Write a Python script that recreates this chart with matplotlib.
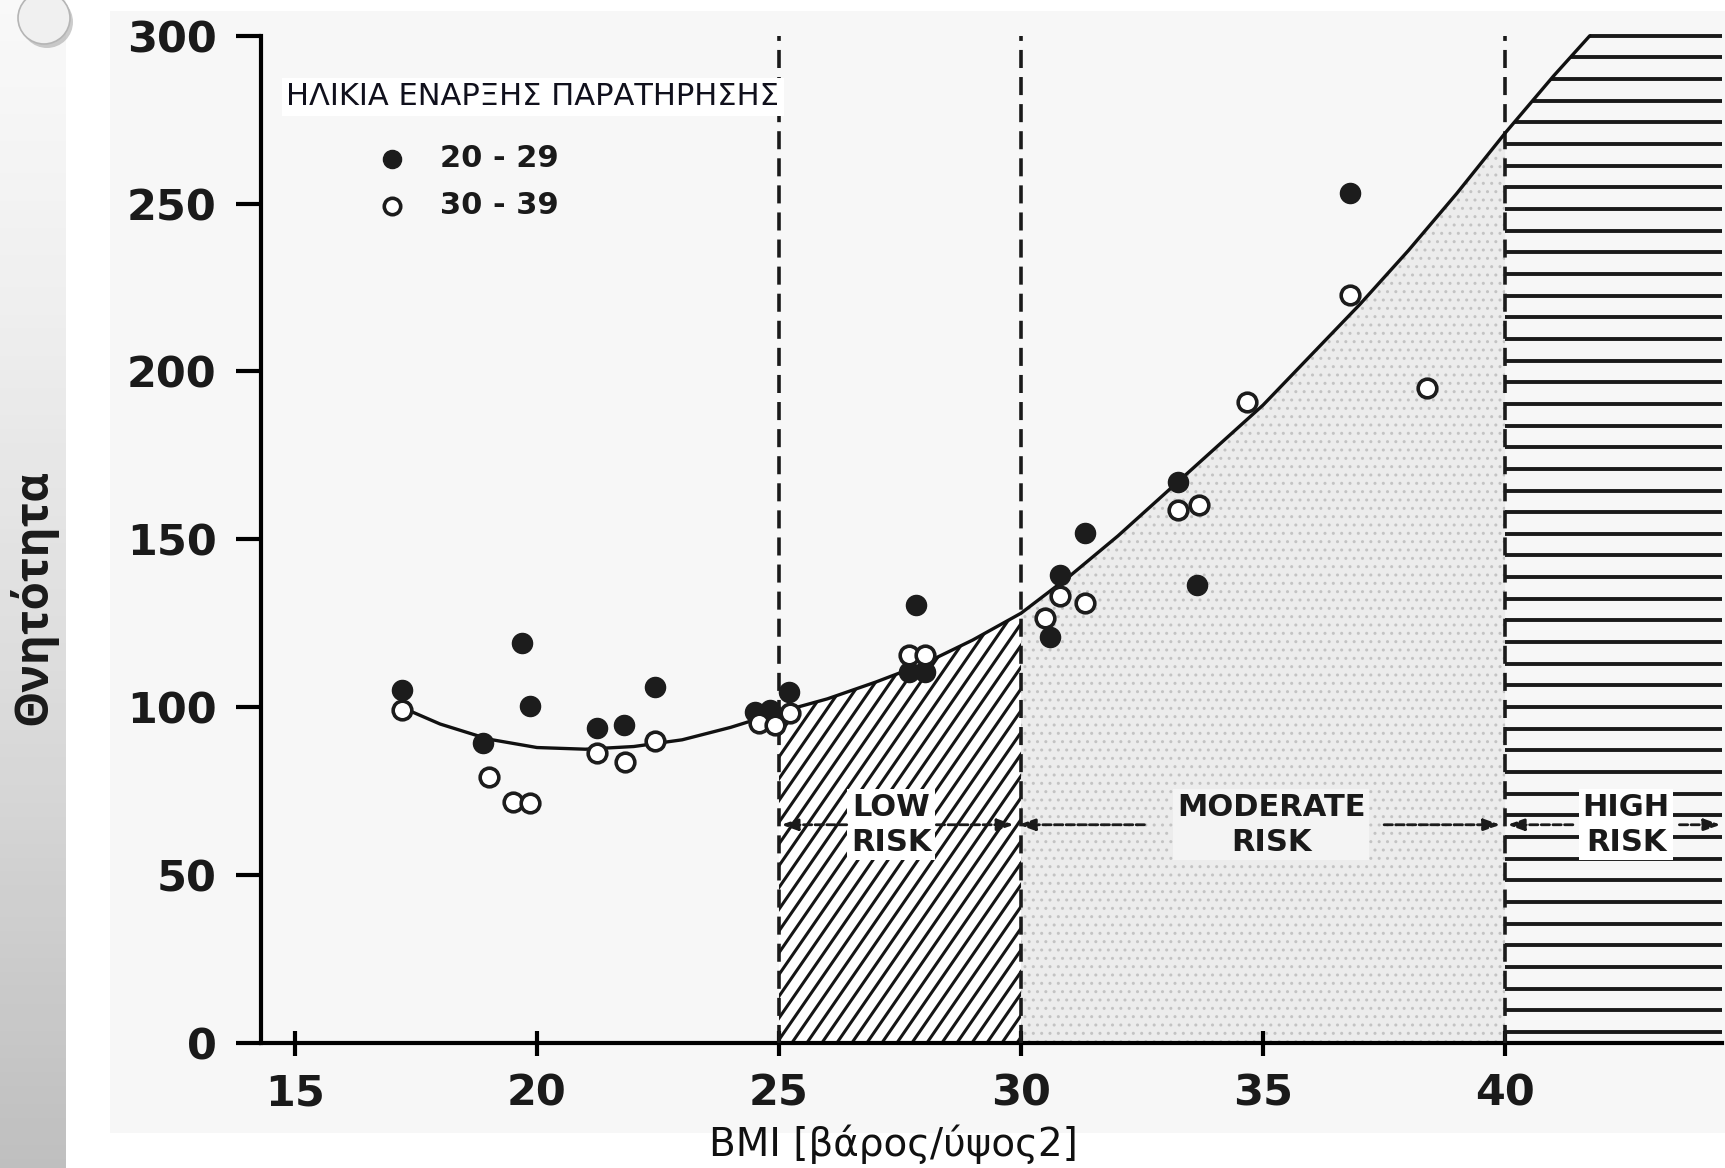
import numpy as np
import matplotlib.pyplot as plt
import matplotlib.patches as mpatches
from matplotlib.transforms import IdentityTransform

# values
bmi_20_29 = [17.21, 18.89, 19.69, 19.86, 21.24, 21.79, 22.44, 24.51, 24.82, 25.20,
             27.84, 27.68, 28.02, 30.60, 30.81, 31.33, 33.25, 33.63, 36.80]
mort_20_29 = [105.2, 89.3, 119.2, 100.4, 93.7, 94.7, 106.1, 98.7, 99.2, 104.6,
              130.5, 110.5, 110.5, 121.0, 139.4, 151.8, 167.2, 136.4, 253.1]

bmi_30_39 = [17.21, 19.00, 19.51, 19.86, 21.24, 21.82, 22.44, 24.58, 24.92, 25.22,
             27.68, 28.02, 30.50, 30.81, 31.33, 33.25, 33.67, 34.67, 36.80, 38.39]
mort_30_39 = [99.2, 79.3, 71.9, 71.4, 86.3, 83.8, 89.8, 95.2, 94.7, 98.2,
              115.7, 115.7, 126.5, 133.0, 131.0, 158.8, 160.3, 191.0, 222.8, 195.0]

bmi_curve = [17.2, 18, 19, 20, 21, 22, 23, 24, 25, 26, 27, 28, 29, 30, 31, 32, 33,
             34, 35, 36, 37, 38, 39, 40, 41, 41.75]
mort_curve = [100, 95, 90.5, 88, 87.5, 88.3, 90.3, 94, 98.5, 102.5, 107.5, 113, 120,
              128, 139, 151, 164, 177, 190, 205, 220, 236, 253, 271, 288, 300]

x_ticks = [15, 20, 25, 30, 35, 40]
y_ticks = [0, 50, 100, 150, 200, 250, 300]
risk_bounds = [25, 30, 40]
risk_names = ["LOW\nRISK", "MODERATE\nRISK", "HIGH\nRISK"]
legend_title = "ΗΛΙΚΙΑ ΕΝΑΡΞΗΣ ΠΑΡΑΤΗΡΗΣΗΣ"
legend_labels = ["20 - 29", "30 - 39"]

W, H = 1725, 1168
fig = plt.figure(figsize=(W / 100, H / 100), dpi=100)
fig.patch.set_facecolor('white')

# slide decoration: grey strip on the left and the scanned page
strip = fig.add_axes([0, 0, 66 / W, 1])
grad = np.linspace(0, 1, 256).reshape(-1, 1)
strip.imshow(grad, aspect='auto', cmap='Greys', vmin=-0.15, vmax=3.0,
             extent=[0, 1, 0, 1], origin='upper')
strip.axis('off')
fig.add_artist(mpatches.Rectangle((110 / W, 35 / H), (W - 110) / W, 1122 / H,
                                  transform=fig.transFigure, facecolor='#f7f7f7',
                                  edgecolor='none', zorder=-5))
fig.add_artist(mpatches.Circle((47, H - 22), 26, transform=IdentityTransform(),
                               facecolor='#9a9a9a', edgecolor='none', alpha=0.5))
fig.add_artist(mpatches.Circle((44, H - 18), 26, transform=IdentityTransform(),
                               facecolor='#f0f0f0', edgecolor='#b5b5b5', lw=1.2))

x0, x1 = 14.3, 44.48
ax = fig.add_axes([261 / W, 125 / H, 1461 / W, 1014 / H])
ax.set_facecolor('none')
ax.set_xlim(x0, x1)
ax.set_ylim(0, 302)

bx = np.array(bmi_curve)
by = np.array(mort_curve)

# low risk: diagonal hatch, drawn as lines clipped to the area under the curve
m = (bx >= 25) & (bx <= 30)
low_poly = np.vstack([np.column_stack([bx[m], by[m]]), [[30, 0], [25, 0]]])
low_patch = mpatches.Polygon(low_poly, closed=True, facecolor='white',
                             edgecolor='none', zorder=1)
ax.add_patch(low_patch)
slope = 1.45 * 48.4 / 3.357
for xs in np.arange(25 - 150 / slope, 30.5, 0.31):
    ln, = ax.plot([xs, xs + 310 / slope], [0, 310], color='#151515', lw=2.2,
                  zorder=2)
    ln.set_clip_path(low_patch)

# moderate risk: stipple
m = (bx >= 30) & (bx <= 40)
ax.fill_between(bx[m], 0, by[m], facecolor='#ececec', edgecolor='#c3c3c3',
                hatch='..', linewidth=0, zorder=1)
# high risk: horizontal lines
up = bx >= 30
for h in np.arange(300, 0, -6.45):
    start = max(40, np.interp(h, by[up], bx[up]))
    ax.hlines(h, start, x1, color='#1a1a1a', lw=2.8, zorder=2)

for b in risk_bounds:
    ax.vlines(b, 0, 300, color='#1a1a1a', lw=2.6, linestyles=(0, (5, 2.5)), zorder=3)

ax.plot(bx, by, color='#111111', lw=2.4, zorder=4, solid_capstyle='round')

ax.scatter(bmi_20_29, mort_20_29, s=210, color='#1c1c1c', edgecolor='#1c1c1c',
           zorder=5)
ax.scatter(bmi_30_39, mort_30_39, s=180, facecolor='white', edgecolor='#1c1c1c',
           linewidth=2.6, zorder=6)

# risk labels and arrows
arrow_y = 65
label_x = [27.32, 35.17, 42.5]
label_bg = ['white', '#f4f4f4', 'white']
arrow_spans = [[(26.4, 25.05), (28.25, 29.85)],
               [(32.55, 29.95), (37.5, 39.9)],
               [(41.4, 40.05), (43.6, 44.45)]]
for name, lx, bg, spans in zip(risk_names, label_x, label_bg, arrow_spans):
    ax.text(lx, arrow_y, name, ha='center', va='center', fontsize=22,
            fontweight='bold', color='#1a1a1a', linespacing=1.25, zorder=8,
            bbox=dict(boxstyle='square,pad=0.12', facecolor=bg, edgecolor='none'))
    for a, b in spans:
        ax.annotate('', xy=(b, arrow_y), xytext=(a, arrow_y), zorder=8,
                    arrowprops=dict(arrowstyle='-|>,head_length=0.7,head_width=0.25',
                                    color='#1a1a1a', lw=2, linestyle=(0, (3, 1.2)),
                                    mutation_scale=14, shrinkA=0, shrinkB=0))

# legend block as in the original
ax.text(14.82, 281.8, legend_title, ha='left', va='center', fontsize=22,
        color='#10101c', zorder=9,
        bbox=dict(boxstyle='square,pad=0.15', facecolor='white', edgecolor='none'))
ax.scatter([17.0], [263.3], s=170, color='#1c1c1c', zorder=9)
ax.scatter([17.0], [249.3], s=140, facecolor='white', edgecolor='#1c1c1c',
           linewidth=2.6, zorder=9)
ax.text(18.0, 263.5, legend_labels[0], ha='left', va='center', fontsize=22,
        fontweight='bold', color='#1a1a1a')
ax.text(18.0, 249.5, legend_labels[1], ha='left', va='center', fontsize=22,
        fontweight='bold', color='#1a1a1a')

# axes styling
for s in ['top', 'right']:
    ax.spines[s].set_visible(False)
ax.spines['left'].set_bounds(0, 300)
ax.spines['left'].set_linewidth(3)
ax.spines['bottom'].set_linewidth(3)
ax.set_xticks(x_ticks)
ax.set_yticks(y_ticks)
ax.tick_params(axis='y', direction='out', length=18, width=3, pad=14,
               labelsize=31)
ax.tick_params(axis='x', direction='inout', length=18, width=3, pad=12,
               labelsize=31)
for lab in ax.get_xticklabels() + ax.get_yticklabels():
    lab.set_fontweight('bold')
    lab.set_color('#1a1a1a')

fig.text(893 / W, 1 - 1144 / H, "BMI [βάρος/ύψος2]", ha='center', va='center',
         fontsize=28, color='#111111')
fig.text(33 / W, 1 - 597 / H, "Θνητότητα", rotation=90, ha='center', va='center',
         fontsize=33, fontweight='bold', family='Open Sans', color='#1a1a1a')

fig.savefig('out.png', dpi=100)
